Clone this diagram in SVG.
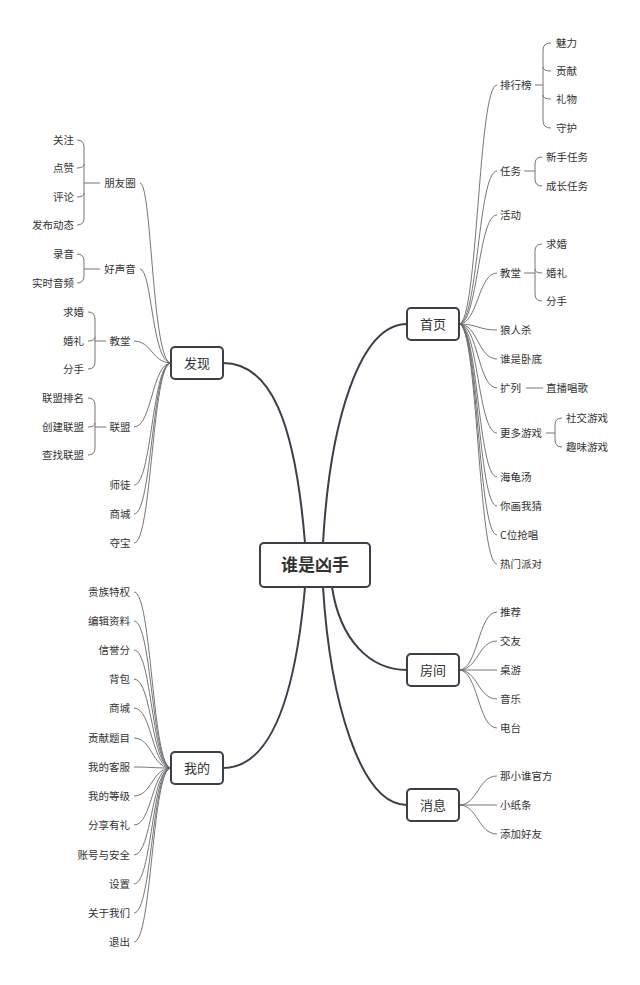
<svg xmlns="http://www.w3.org/2000/svg" width="640" height="985" viewBox="0 0 640 985">
<style>
text{font-family:"Noto Sans CJK SC","Noto Sans",sans-serif;fill:#333;font-size:10.5px}
.m{font-size:13px;text-anchor:middle}
.c{font-size:17px;font-weight:bold;text-anchor:middle}
.box{fill:#fff;stroke:#3a3f4a;stroke-width:2}
.main{fill:none;stroke:#3a3f4a;stroke-width:2}
.l{fill:none;stroke:#666;stroke-width:0.9}
.mid{text-anchor:middle}
.end{text-anchor:end}
</style>
<rect width="640" height="985" fill="#fff"/>
<g id="connectors">
<path class="main" d="M305,543 C295,420 270,363 223,363"/>
<path class="main" d="M323,543 C330,420 360,324 407,324"/>
<path class="main" d="M305,587 C295,700 270,768 223,768"/>
<path class="main" d="M332,587 C340,640 370,670 407,670"/>
<path class="main" d="M323,587 C330,700 360,805 407,805"/>
<g class="l">
<path d="M459,324 C478,324 478,85 497,85"/><path d="M459,324 C478,324 478,171 497,171"/><path d="M459,324 C478,324 478,215 497,215"/><path d="M459,324 C478,324 478,273 497,273"/><path d="M459,324 C478,324 478,330 497,330"/><path d="M459,324 C478,324 478,359 497,359"/><path d="M459,324 C478,324 478,388 497,388"/><path d="M459,324 C478,324 478,433 497,433"/><path d="M459,324 C478,324 478,477 497,477"/><path d="M459,324 C478,324 478,506 497,506"/><path d="M459,324 C478,324 478,535 497,535"/><path d="M459,324 C478,324 478,564 497,564"/>
<path d="M535,85 H543 M551,43 Q543,43 543,50 V121 Q543,128 551,128 M543,67 Q543,71 551,71 M543,95 Q543,99 551,99"/>
<path d="M524,171 H535 M542,157 Q535,157 535,164 V179 Q535,186 542,186"/>
<path d="M524,273 H535 M542,244 Q535,244 535,251 V294 Q535,301 542,301 M535,269 Q535,273 542,273"/>
<path d="M526,388 H543"/>
<path d="M546,433 H555 M562,418 Q555,418 555,425 V440 Q555,447 562,447"/>
<path d="M459,670 C478,670 478,612 497,612"/><path d="M459,670 C478,670 478,641 497,641"/><path d="M459,670 H497"/><path d="M459,670 C478,670 478,699 497,699"/><path d="M459,670 C478,670 478,728 497,728"/>
<path d="M459,805 C478,805 478,776 497,776"/><path d="M459,805 H497"/><path d="M459,805 C478,805 478,834 497,834"/>
<path d="M171,363 C152,363 152,183 140,183"/><path d="M171,363 C152,363 152,269 140,269"/><path d="M171,363 C152,363 152,341 134,341"/><path d="M171,363 C152,363 152,427 134,427"/><path d="M171,363 C152,363 152,485 134,485"/><path d="M171,363 C152,363 152,514 134,514"/><path d="M171,363 C152,363 152,543 134,543"/>
<path d="M100,183 H84 M77,140 Q84,140 84,147 V218 Q84,225 77,225 M84,164 Q84,168 77,168 M84,193 Q84,197 77,197"/>
<path d="M100,269 H84 M77,254 Q84,254 84,261 V276 Q84,283 77,283"/>
<path d="M106,341 H95 M88,312 Q95,312 95,319 V362 Q95,369 88,369 M95,337 Q95,341 88,341"/>
<path d="M106,427 H95 M88,398 Q95,398 95,405 V448 Q95,455 88,455 M95,423 Q95,427 88,427"/>
<path d="M171,768 C152,768 152,592 134,592"/><path d="M171,768 C152,768 152,621 134,621"/><path d="M171,768 C152,768 152,650 134,650"/><path d="M171,768 C152,768 152,679 134,679"/><path d="M171,768 C152,768 152,708 134,708"/><path d="M171,768 C152,768 152,738 134,738"/><path d="M171,768 C152,768 152,767 134,767"/><path d="M171,768 C152,768 152,796 134,796"/><path d="M171,768 C152,768 152,825 134,825"/><path d="M171,768 C152,768 152,855 134,855"/><path d="M171,768 C152,768 152,884 134,884"/><path d="M171,768 C152,768 152,913 134,913"/><path d="M171,768 C152,768 152,942 134,942"/>
</g>
</g>
<g id="center"><rect class="box" x="260" y="543" width="110" height="44" rx="4"/><text class="c" x="315" y="571">谁是凶手</text></g>
<g id="n-home"><rect class="box" x="407" y="308" width="52" height="32" rx="4"/><text class="m" x="433" y="329">首页</text></g>
<g id="n-find"><rect class="box" x="171" y="347" width="52" height="32" rx="4"/><text class="m" x="197" y="368">发现</text></g>
<g id="n-room"><rect class="box" x="407" y="654" width="52" height="32" rx="4"/><text class="m" x="433" y="675">房间</text></g>
<g id="n-msg"><rect class="box" x="407" y="789" width="52" height="32" rx="4"/><text class="m" x="433" y="810">消息</text></g>
<g id="n-me"><rect class="box" x="171" y="752" width="52" height="32" rx="4"/><text class="m" x="197" y="773">我的</text></g>
<g id="home-items">
<text x="500" y="89">排行榜</text><text x="500" y="175">任务</text><text x="500" y="219">活动</text><text x="500" y="277">教堂</text><text x="500" y="334">狼人杀</text><text x="500" y="363">谁是卧底</text><text x="500" y="392">扩列</text><text x="500" y="437">更多游戏</text><text x="500" y="481">海龟汤</text><text x="500" y="510">你画我猜</text><text x="500" y="539">C位抢唱</text><text x="500" y="568">热门派对</text>
<text x="556" y="47">魅力</text><text x="556" y="75">贡献</text><text x="556" y="103">礼物</text><text x="556" y="132">守护</text>
<text x="546" y="161">新手任务</text><text x="546" y="190">成长任务</text>
<text x="546" y="248">求婚</text><text x="546" y="277">婚礼</text><text x="546" y="305">分手</text>
<text x="546" y="392">直播唱歌</text>
<text x="566" y="422">社交游戏</text><text x="566" y="451">趣味游戏</text>
</g>
<g id="room-items"><text x="500" y="616">推荐</text><text x="500" y="645">交友</text><text x="500" y="674">桌游</text><text x="500" y="703">音乐</text><text x="500" y="732">电台</text></g>
<g id="msg-items"><text x="500" y="780">那小谁官方</text><text x="500" y="809">小纸条</text><text x="500" y="838">添加好友</text></g>
<g id="find-items">
<text class="mid" x="120" y="187">朋友圈</text><text class="mid" x="120" y="273">好声音</text><text class="mid" x="120" y="345">教堂</text><text class="mid" x="120" y="431">联盟</text><text class="mid" x="120" y="489">师徒</text><text class="mid" x="120" y="518">商城</text><text class="mid" x="120" y="547">夺宝</text>
<text class="end" x="74" y="144">关注</text><text class="end" x="74" y="172">点赞</text><text class="end" x="74" y="201">评论</text><text class="end" x="74" y="229">发布动态</text>
<text class="end" x="74" y="258">录音</text><text class="end" x="74" y="287">实时音频</text>
<text class="end" x="84" y="316">求婚</text><text class="end" x="84" y="345">婚礼</text><text class="end" x="84" y="373">分手</text>
<text class="end" x="84" y="402">联盟排名</text><text class="end" x="84" y="431">创建联盟</text><text class="end" x="84" y="459">查找联盟</text>
</g>
<g id="me-items">
<text class="end" x="130" y="596">贵族特权</text><text class="end" x="130" y="625">编辑资料</text><text class="end" x="130" y="654">信誉分</text><text class="end" x="130" y="683">背包</text><text class="end" x="130" y="712">商城</text><text class="end" x="130" y="742">贡献题目</text><text class="end" x="130" y="771">我的客服</text><text class="end" x="130" y="800">我的等级</text><text class="end" x="130" y="829">分享有礼</text><text class="end" x="130" y="859">账号与安全</text><text class="end" x="130" y="888">设置</text><text class="end" x="130" y="917">关于我们</text><text class="end" x="130" y="946">退出</text>
</g>
</svg>
